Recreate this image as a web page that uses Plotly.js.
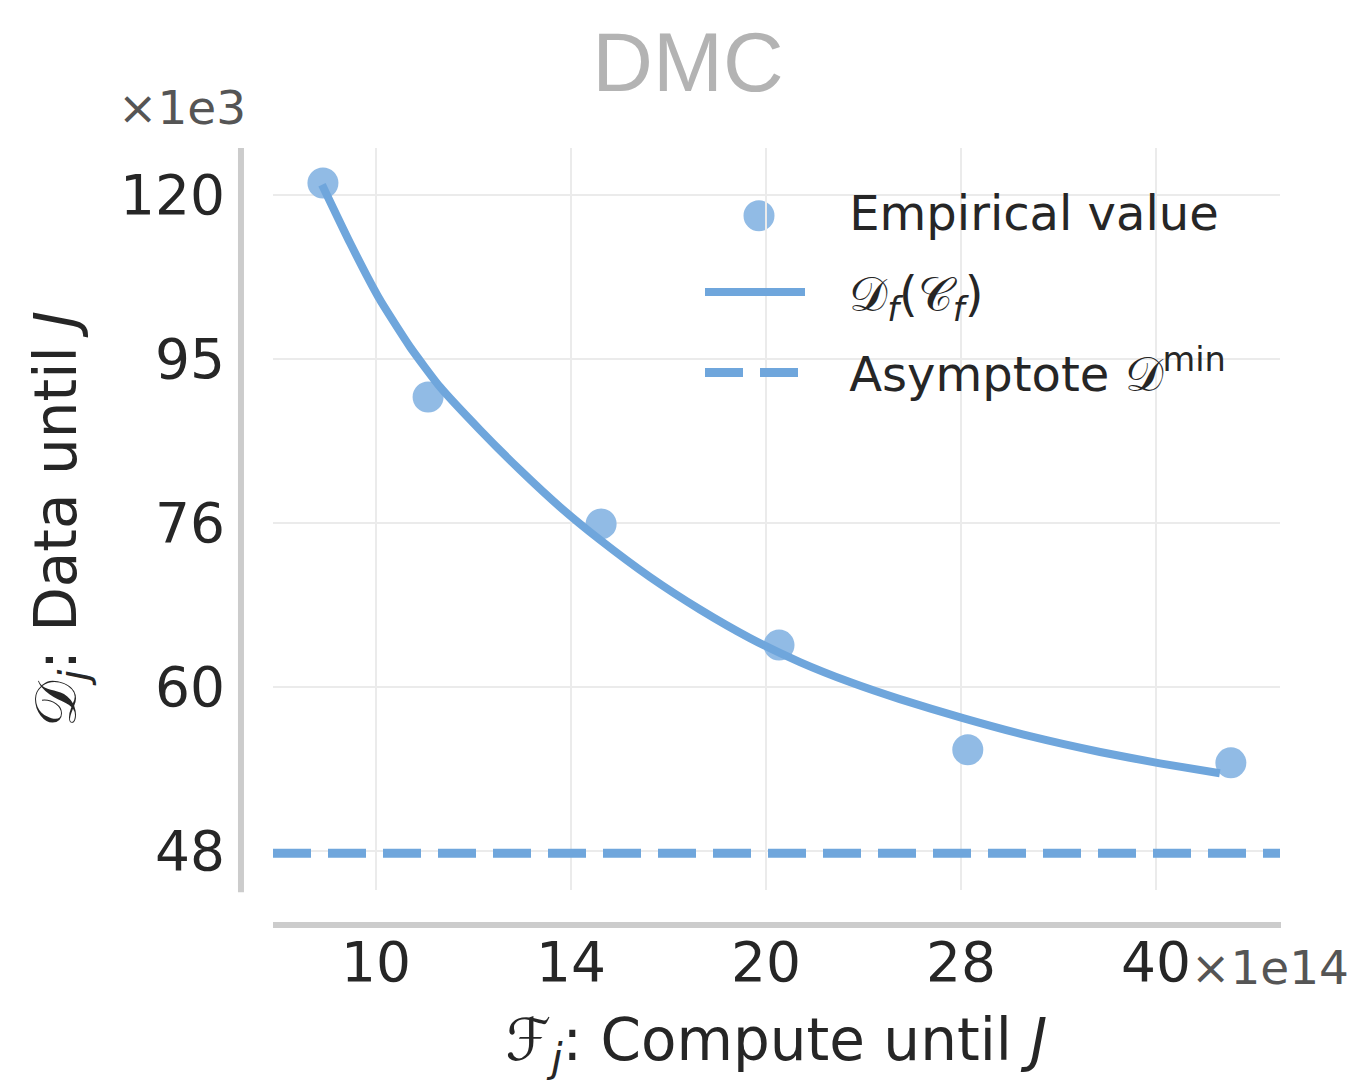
<!DOCTYPE html>
<html>
<head>
<meta charset="utf-8">
<script src="https://cdn.plot.ly/plotly-3.0.1.min.js"></script>
<style>
  html, body { margin: 0; padding: 0; background: #ffffff; }
  #chart { width: 1355px; height: 1085px; }
</style>
</head>
<body>
<div id="chart"></div>
<script>
// ---- data (x in units of 1e14, y in units of 1e3) ----
const empiricalCompute = [9.10, 10.97, 14.92, 20.47, 28.63, 45.70];
const empiricalData    = [122.0, 90.5, 75.8, 64.0, 55.3, 54.3];

const fitCompute = [9.085, 9.548, 10.071, 10.623, 11.205, 12.031, 12.917, 13.869, 14.892, 16.273,
                    17.786, 19.438, 21.244, 23.217, 25.374, 28.387, 31.972, 36.220, 40.288, 44.812];
const fitData    = [121.69, 112.22, 103.63, 97.05, 91.77, 86.42, 81.73, 77.61, 74.12, 70.38,
                    67.26, 64.63, 62.50, 60.78, 59.35, 57.80, 56.36, 55.13, 54.26, 53.52];

const asymptoteValue = 47.86;

const xTickVals = [10, 14.142, 20, 28.284, 40];
const xTickText = ["10", "14", "20", "28", "40"];
const yTickVals = [48, 60.36, 75.89, 95.42, 120];
const yTickText = ["48", "60", "76", "95", "120"];

const xRange = [8.327, 49.87];
const yRange = [45.47, 128.1];

const PAD = "\u2002\u00A0";
const seriesNames = [PAD + "Empirical value",
                     PAD + "𝒟<sub><i>f</i></sub>(𝒞<sub><i>f</i></sub>)",
                     PAD + "Asymptote 𝒟<sup>min</sup>"];
const titleText = "DMC";
const xTitle = "ℱ<sub><i>j</i></sub>: Compute until <i>J</i>";
const yTitle = "𝒟<sub><i>j</i></sub>: Data until <i>J</i>";

// ---- styles ----
const BLUE = "rgb(111,166,220)";
const MARKER = "rgb(145,187,229)";
const FONT = "DejaVu Sans, Liberation Sans, sans-serif";
const TXT = "#262626";

const traces = [
  {
    x: empiricalCompute, y: empiricalData, type: "scatter", mode: "markers",
    name: seriesNames[0], legendgroup: "g1",
    marker: { size: 31, color: MARKER, line: { width: 0 } },
    cliponaxis: false
  },
  {
    x: fitCompute, y: fitData, type: "scatter", mode: "lines",
    name: seriesNames[1], legendgroup: "g2",
    line: { color: BLUE, width: 8, shape: "spline", smoothing: 0.5 },
    cliponaxis: false
  },
  {
    x: xRange, y: [asymptoteValue, asymptoteValue], type: "scatter", mode: "lines",
    name: seriesNames[2], legendgroup: "g3",
    line: { color: BLUE, width: 9, dash: "38px,17px" }
  }
];

const baseShapes = [
  { type: "line", xref: "paper", yref: "paper", x0: -0.0318, x1: -0.0318, y0: -0.003, y1: 1.0,
    line: { color: "#cccccc", width: 6 } },
  { type: "line", xref: "paper", yref: "paper", x0: 0, x1: 1.001, y0: -0.0472, y1: -0.0472,
    line: { color: "#cccccc", width: 6 } }
];

const layout = {
  width: 1355, height: 1085,
  paper_bgcolor: "#ffffff", plot_bgcolor: "#ffffff",
  margin: { l: 273, r: 75, t: 148, b: 195 },
  font: { family: FONT, color: TXT },
  showlegend: true,
  title: {
    text: titleText, xref: "container", x: 688 / 1355, xanchor: "center",
    yref: "container", y: 1 - 62 / 1085, yanchor: "middle",
    font: { family: "Liberation Sans, Arial, sans-serif", size: 84, color: "#b3b3b3" }
  },
  xaxis: {
    type: "log", range: xRange.map(Math.log10),
    tickvals: xTickVals, ticktext: xTickText,
    ticks: "outside", ticklen: 24, tickcolor: "rgba(0,0,0,0)",
    tickfont: { size: 55, color: TXT, family: FONT },
    showgrid: true, gridcolor: "#ebebeb", gridwidth: 1.5,
    showline: false, zeroline: false,
    title: { text: xTitle, font: { size: 58, color: TXT, family: FONT }, standoff: 26 }
  },
  yaxis: {
    type: "log", range: yRange.map(Math.log10),
    tickvals: yTickVals, ticktext: yTickText,
    ticks: "outside", ticklen: 36, tickcolor: "rgba(0,0,0,0)",
    tickfont: { size: 55, color: TXT, family: FONT },
    showgrid: true, gridcolor: "#ebebeb", gridwidth: 1.5,
    showline: false, zeroline: false,
    title: { text: yTitle, font: { size: 58, color: TXT, family: FONT }, standoff: 24 }
  },
  legend: {
    x: (700 - 273) / 1007, y: 1 - (174 - 148) / 742, xanchor: "left", yanchor: "top",
    bgcolor: "rgba(0,0,0,0)", borderwidth: 0,
    font: { size: 48, color: TXT, family: FONT },
    itemwidth: 100, tracegroupgap: 15
  },
  shapes: baseShapes.slice(),
  annotations: [
    { text: "×1e3", xref: "paper", yref: "paper", x: (182 - 273) / 1007, y: 1 + (148 - 107) / 742,
      xanchor: "center", yanchor: "middle", showarrow: false,
      font: { size: 47, color: "#555555", family: FONT } },
    { text: "×1e14", xref: "paper", yref: "paper", x: (1189 - 273) / 1007, y: -(967 - 890) / 742,
      xanchor: "left", yanchor: "middle", showarrow: false,
      font: { size: 47, color: "#555555", family: FONT } }
  ]
};

Plotly.newPlot("chart", traces, layout, { displayModeBar: false, staticPlot: true }).then(function (gd) {
  // enlarge the legend's marker sample to the size of the plotted markers
  var pt = gd.querySelector(".legend .traces .legendpoints .scatterpts");
  if (!pt) return;
  var r = pt.getBoundingClientRect();
  var g = gd.getBoundingClientRect();
  var cx = r.left + r.width / 2 - g.left + 4, cy = r.top + r.height / 2 - g.top + 4;
  var sz = gd._fullLayout._size;
  var px = (cx - sz.l) / sz.w, py = 1 - (cy - sz.t) / sz.h;
  var rx = 15.5 / sz.w, ry = 15.5 / sz.h;
  var shapes = baseShapes.concat([{
    type: "circle", xref: "paper", yref: "paper", layer: "below",
    x0: px - rx, x1: px + rx, y0: py - ry, y1: py + ry,
    fillcolor: MARKER, line: { width: 0 }
  }]);
  return Plotly.relayout(gd, { shapes: shapes });
});
</script>
</body>
</html>
